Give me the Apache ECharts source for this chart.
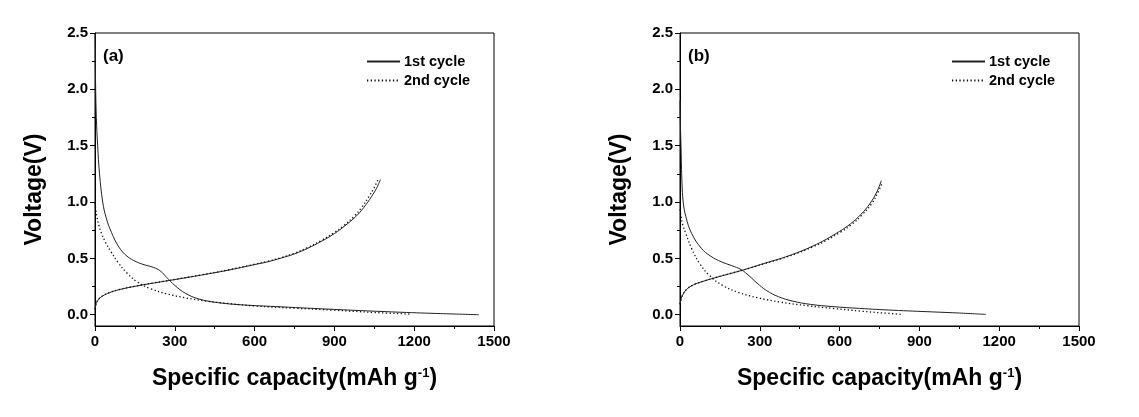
<!DOCTYPE html>
<html>
<head>
<meta charset="utf-8">
<script src="https://cdn.jsdelivr.net/npm/echarts@6/dist/echarts.min.js"></script>
<style>
html,body{margin:0;padding:0;background:#fff;}
#chart{width:1139px;height:417px;}
</style>
</head>
<body>
<div id="chart"></div>
<script>
// ---- data (capacity mAh/g, voltage V) ----
const seriesNames = ['1st cycle', '2nd cycle'];
const panelLabels = ['(a)', '(b)'];
const xTicks = [0, 300, 600, 900, 1200, 1500];
const yTicks = [0, 0.5, 1.0, 1.5, 2.0, 2.5];
const yMinorTicks = [0.25, 0.75, 1.25, 1.75, 2.25];

// panel (a)
const a1Discharge = [[0.5,2.5],[1.5,2.2],[2.5,2.0],[5,1.75],[10,1.5],[17,1.25],[29,1.0],[42,0.86],[62,0.73],[90,0.6],[120,0.52],[155,0.47],[190,0.44],[220,0.42],[245,0.39],[270,0.33],[300,0.26],[340,0.19],[390,0.14],[460,0.108],[550,0.088],[700,0.07],[900,0.047],[1150,0.022],[1300,0.01],[1443,0.0]];
const a2Discharge = [[0,0.99],[3,0.93],[8,0.86],[15,0.79],[25,0.72],[40,0.64],[60,0.56],[85,0.47],[120,0.37],[160,0.29],[210,0.23],[270,0.185],[340,0.15],[420,0.12],[500,0.1],[600,0.078],[750,0.058],[900,0.04],[1050,0.02],[1184,0.006]];
const a1Charge = [[0,0.047],[5,0.1],[15,0.14],[30,0.168],[55,0.196],[90,0.222],[150,0.252],[225,0.283],[300,0.312],[400,0.352],[500,0.395],[600,0.445],[650,0.47],[700,0.503],[750,0.54],[800,0.59],[850,0.65],[900,0.72],[940,0.79],[980,0.87],[1010,0.95],[1040,1.05],[1060,1.13],[1073,1.2]];
const a2Charge = [[0,0.05],[5,0.105],[15,0.143],[30,0.17],[55,0.197],[90,0.223],[150,0.253],[225,0.284],[300,0.313],[400,0.354],[500,0.397],[600,0.448],[650,0.474],[700,0.507],[750,0.546],[800,0.597],[850,0.658],[900,0.73],[935,0.79],[975,0.875],[1002,0.95],[1030,1.05],[1050,1.13],[1064,1.2]];

// panel (b)
const b1Discharge = [[0,1.9],[1.5,1.7],[4,1.47],[7.5,1.17],[12,1.0],[22,0.87],[44,0.72],[80,0.59],[115,0.52],[155,0.47],[195,0.435],[230,0.4],[260,0.345],[290,0.28],[325,0.215],[370,0.16],[425,0.12],[490,0.092],[575,0.072],[675,0.056],[800,0.04],[950,0.025],[1050,0.015],[1150,0.003]];
const b2Discharge = [[0,0.935],[4,0.87],[10,0.8],[22,0.72],[45,0.58],[75,0.45],[110,0.35],[160,0.26],[220,0.198],[290,0.152],[375,0.113],[480,0.08],[580,0.055],[680,0.032],[760,0.016],[835,0.003]];
const b1Charge = [[0,0.092],[4,0.14],[10,0.175],[25,0.225],[50,0.265],[85,0.295],[135,0.33],[200,0.372],[260,0.413],[320,0.458],[380,0.5],[440,0.55],[500,0.61],[550,0.67],[600,0.74],[640,0.805],[680,0.89],[715,0.99],[740,1.09],[757,1.19]];
const b2Charge = [[0,0.095],[10,0.175],[25,0.225],[50,0.265],[85,0.295],[135,0.331],[200,0.373],[260,0.412],[320,0.455],[380,0.497],[440,0.545],[500,0.603],[550,0.66],[605,0.735],[645,0.8],[684,0.885],[722,0.99],[745,1.09],[760,1.17]];

const panels = [
  {d1: a1Discharge, d2: a2Discharge, c1: a1Charge, c2: a2Charge},
  {d1: b1Discharge, d2: b2Discharge, c1: b1Charge, c2: b2Charge}
];

// ---- layout / style ----
const FONT = '"Liberation Sans", Arial, sans-serif';
const gridLefts = [95, 680];
const GRID_TOP = 33, GRID_W = 399, GRID_H = 293;

const grids = [], xAxes = [], yAxes = [], series = [], legends = [], titles = [];

panels.forEach((p, i) => {
  grids.push({left: gridLefts[i], top: GRID_TOP, width: GRID_W, height: GRID_H,
    show: true, borderColor: '#000', borderWidth: 1, backgroundColor: 'transparent'});
  xAxes.push({
    gridIndex: i, type: 'value', min: 0, max: 1500, interval: 300,
    axisLine: {show: true, onZero: false, lineStyle: {color: '#000', width: 1}},
    axisTick: {show: true, length: 5, lineStyle: {color: '#000'}},
    minorTick: {show: true, splitNumber: 2, length: 3, lineStyle: {color: '#000'}},
    splitLine: {show: false},
    axisLabel: {color: '#000', fontFamily: FONT, fontWeight: 'bold', fontSize: 15, margin: 8,
      customValues: xTicks, formatter: v => String(v)},
    name: '{n|Specific capacity(mAh g}{s|-1}{n|)}',
    nameLocation: 'middle', nameGap: 41,
    nameTextStyle: {rich: {
      n: {fontFamily: FONT, fontWeight: 'bold', fontSize: 23, color: '#000'},
      s: {fontFamily: FONT, fontWeight: 'bold', fontSize: 13, color: '#000', padding: [0, 0, 11, 0]}
    }}
  });
  yAxes.push({
    gridIndex: i, type: 'value', min: -0.1, max: 2.5,
    axisLine: {show: true, onZero: false, lineStyle: {color: '#000', width: 1}},
    axisTick: {show: true, length: 5, customValues: yTicks, lineStyle: {color: '#000'}},
    splitLine: {show: false},
    axisLabel: {color: '#000', fontFamily: FONT, fontWeight: 'bold', fontSize: 15, margin: 7,
      customValues: yTicks, formatter: v => v.toFixed(1)},
    name: 'Voltage(V)', nameLocation: 'middle', nameGap: 49, nameRotate: 90,
    nameTextStyle: {fontFamily: FONT, fontWeight: 'bold', fontSize: 23, color: '#000', padding: [0, 20, 0, 0]}
  });
  // minor y ticks
  yAxes.push({
    gridIndex: i, type: 'value', min: -0.1, max: 2.5, position: 'left',
    axisLine: {show: false}, splitLine: {show: false}, axisLabel: {show: false},
    axisTick: {show: true, length: 3, customValues: yMinorTicks, lineStyle: {color: '#000'}}
  });
  const yIdx = i * 2;
  const mk = (name, data, dotted) => ({
    name, type: 'line', xAxisIndex: i, yAxisIndex: yIdx, data,
    showSymbol: false, symbol: 'none', smooth: 0.4,
    lineStyle: dotted ? {color: '#111', width: 1.3, type: [1.3, 2.4]} : {color: '#222', width: 1},
    itemStyle: {color: '#222'}, z: dotted ? 3 : 2, silent: true
  });
  series.push(mk(seriesNames[0], p.d1, false));
  series.push(mk(seriesNames[0], p.c1, false));
  series.push(mk(seriesNames[1], p.d2, true));
  series.push(mk(seriesNames[1], p.c2, true));

  legends.push({
    data: seriesNames, orient: 'vertical',
    left: gridLefts[i] + 271, top: 54, padding: 0,
    itemWidth: 33, itemHeight: 12, itemGap: 4,
    itemStyle: {opacity: 0},
    textStyle: {fontFamily: FONT, fontWeight: 'bold', fontSize: 14.5, color: '#000', padding: [0, 0, 0, -1]},
    selectedMode: false
  });
  titles.push({
    text: panelLabels[i], left: gridLefts[i] + 8, top: 48, padding: 0,
    textStyle: {fontFamily: FONT, fontWeight: 'bold', fontSize: 17, color: '#000'}
  });
});

const chart = echarts.init(document.getElementById('chart'), null, {renderer: 'canvas'});
chart.setOption({
  animation: false,
  backgroundColor: '#fff',
  title: titles,
  legend: legends,
  grid: grids,
  xAxis: xAxes,
  yAxis: yAxes,
  series: series
});
</script>
</body>
</html>
